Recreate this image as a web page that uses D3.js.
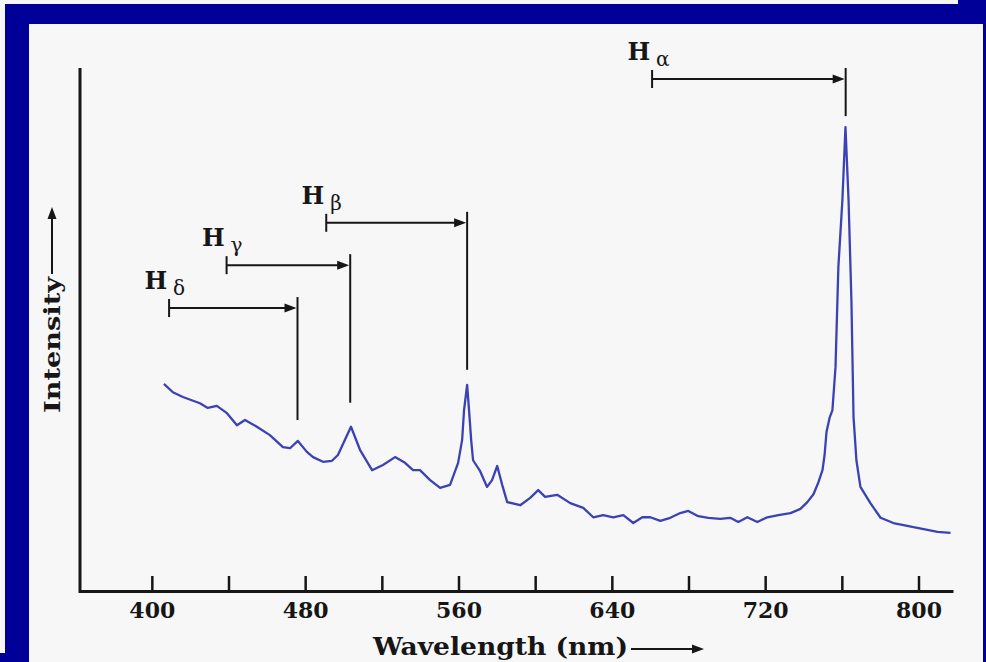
<!DOCTYPE html>
<html>
<head>
<meta charset="utf-8">
<style>
  html, body { margin: 0; padding: 0; background: #f7f7f7; }
  svg { display: block; }
</style>
<script src="https://cdn.jsdelivr.net/npm/d3@7"></script>
</head>
<body>
<div id="chart"></div>
<script>
// spectrum (wavelength in nm, intensity in arbitrary units)
const WAVELENGTHS = [
  406.3, 411.0, 416.2, 425.1, 429.2, 433.9, 439.2, 444.4, 448.6, 454.8,
  461.6, 468.4, 472.1, 476.2, 480.9, 484.1, 489.3, 494.0, 497.1, 503.9,
  508.6, 514.9, 520.6, 526.9, 532.1, 536.3, 539.9, 545.2, 550.4, 555.6,
  559.8, 561.9, 562.9, 564.5, 565.5, 566.6, 567.6, 571.3, 574.9, 577.5,
  580.2, 582.8, 585.4, 592.2, 597.4, 601.6, 605.2, 611.5, 618.3, 625.1,
  630.3, 635.5, 640.7, 646.0, 651.2, 655.9, 660.1, 665.3, 670.5, 675.7,
  679.9, 685.1, 690.3, 696.6, 701.8, 706.0, 710.7, 715.9, 721.1, 726.9,
  733.2, 738.4, 742.0, 745.2, 747.8, 749.9, 751.0, 752.0, 753.6, 755.1,
  756.7, 758.2, 760.3, 761.9, 763.5, 765.0, 766.1, 767.6, 769.7, 774.9,
  780.2, 786.9, 792.2, 797.4, 804.7, 809.9, 816.7
];
const INTENSITY = [
  39.6, 38.0, 37.1, 35.9, 35.0, 35.4, 34.0, 31.7, 32.7, 31.4,
  29.8, 27.5, 27.3, 28.7, 26.6, 25.6, 24.7, 24.9, 26.0, 31.4,
  27.0, 23.1, 24.1, 25.6, 24.5, 23.1, 23.1, 21.2, 19.7, 20.3,
  24.5, 28.9, 34.6, 39.4, 34.6, 28.9, 25.0, 22.9, 19.9, 21.2,
  23.9, 20.3, 17.0, 16.4, 17.8, 19.3, 18.0, 18.4, 16.8, 15.9,
  14.1, 14.5, 14.1, 14.5, 13.0, 14.1, 14.1, 13.4, 14.0, 14.9,
  15.3, 14.3, 14.0, 13.8, 14.0, 13.2, 14.1, 13.2, 14.1, 14.5,
  14.9, 15.7, 17.0, 18.5, 20.8, 23.1, 26.0, 30.4, 33.1, 34.6,
  42.8, 62.0, 74.8, 88.7, 74.8, 55.6, 33.3, 25.0, 19.9, 16.8,
  14.0, 13.0, 12.6, 12.2, 11.7, 11.3, 11.1
];

// x axis ticks
const TICK_VALUES = [400, 440, 480, 520, 560, 600, 640, 680, 720, 760, 800];
const TICK_LABELS = ['400', '', '480', '', '560', '', '640', '', '720', '', '800'];

// Balmer lines: rest wavelength -> observed (shifted) wavelength
const LINE_NAMES = ['α', 'β', 'γ', 'δ'];
const REST_NM = [661, 491, 439, 409];
const OBSERVED_NM = [762, 564.5, 503.5, 476];
const BRACKET_LEVEL = [97.9, 70.4, 62.3, 54.1];
const MARKER_FOOT = [90.8, 42.3, 36.0, 32.7];

const X_DOMAIN = [362, 818];
const Y_DOMAIN = [0, 100];

const WIDTH = 986;
const HEIGHT = 662;
const BLUE = '#000099';
const INK = '#161616';
const SERIF = '"DejaVu Serif", "Liberation Serif", serif';

const svg = d3.select('#chart').append('svg')
  .attr('width', WIDTH)
  .attr('height', HEIGHT);

svg.append('rect').attr('width', WIDTH).attr('height', HEIGHT).attr('fill', '#f7f7f7');

// blue frame
const frame = svg.append('g').attr('fill', BLUE);
frame.append('rect').attr('x', 5).attr('y', 4).attr('width', 981).attr('height', 20);
frame.append('rect').attr('x', 958).attr('y', 0).attr('width', 28).attr('height', 4);
frame.append('rect').attr('x', 5).attr('y', 4).attr('width', 24).attr('height', 658);
frame.append('rect').attr('x', 0).attr('y', 653).attr('width', 29).attr('height', 9);
frame.append('rect').attr('x', 983).attr('y', 0).attr('width', 3).attr('height', 662);

const x = d3.scaleLinear().domain(X_DOMAIN).range([79, 953]);
const y = d3.scaleLinear().domain(Y_DOMAIN).range([591, 68]);

function arrowHead(tipX, tipY, dir) {
  // dir: 'right' or 'up'
  const p = d3.path();
  if (dir === 'up') {
    p.moveTo(tipX, tipY);
    p.lineTo(tipX - 4.5, tipY + 12);
    p.lineTo(tipX + 4.5, tipY + 12);
  } else {
    p.moveTo(tipX, tipY);
    p.lineTo(tipX - 12, tipY - 4.5);
    p.lineTo(tipX - 12, tipY + 4.5);
  }
  p.closePath();
  return p.toString();
}

// x axis, ticks pointing up
const xAxis = d3.axisBottom(x)
  .tickValues(TICK_VALUES)
  .tickFormat((d, i) => TICK_LABELS[i])
  .tickSizeInner(-15)
  .tickSizeOuter(0)
  .tickPadding(11);

const gx = svg.append('g')
  .attr('transform', `translate(0,${y(0)})`)
  .call(xAxis);
gx.select('.domain').attr('stroke', INK).attr('stroke-width', 3);
gx.selectAll('.tick line').attr('stroke', INK).attr('stroke-width', 2.5);
gx.selectAll('.tick text')
  .attr('fill', INK)
  .style('font-family', SERIF)
  .style('font-weight', 'bold')
  .style('font-size', '22px');

// y axis: bare line
const yAxis = d3.axisLeft(y).tickValues([]).tickSizeOuter(0);
const gy = svg.append('g')
  .attr('transform', 'translate(80,0)')
  .call(yAxis);
gy.select('.domain').attr('stroke', INK).attr('stroke-width', 3)
  .attr('d', `M0,${y(Y_DOMAIN[1])}V${y(0) + 2}`);

// axis titles
svg.append('text')
  .attr('x', 373)
  .attr('y', 655)
  .attr('fill', INK)
  .attr('textLength', 255)
  .attr('lengthAdjust', 'spacingAndGlyphs')
  .style('font-family', SERIF)
  .style('font-weight', 'bold')
  .style('font-size', '24px')
  .text('Wavelength (nm)');
svg.append('line')
  .attr('x1', 631).attr('x2', 695)
  .attr('y1', 649).attr('y2', 649)
  .attr('stroke', INK).attr('stroke-width', 2);
svg.append('path').attr('d', arrowHead(704, 649, 'right')).attr('fill', INK);

svg.append('text')
  .attr('transform', 'translate(60,413) rotate(-90)')
  .attr('fill', INK)
  .attr('textLength', 136)
  .attr('lengthAdjust', 'spacingAndGlyphs')
  .style('font-family', SERIF)
  .style('font-weight', 'bold')
  .style('font-size', '23px')
  .text('Intensity');
svg.append('line')
  .attr('x1', 52).attr('x2', 52)
  .attr('y1', 274).attr('y2', 216)
  .attr('stroke', INK).attr('stroke-width', 2);
svg.append('path').attr('d', arrowHead(52, 207, 'up')).attr('fill', INK);

// spectrum
const spectrum = WAVELENGTHS.map((w, i) => ({ w, v: INTENSITY[i] }));
const line = d3.line()
  .x(d => x(d.w))
  .y(d => y(d.v))
  .curve(d3.curveLinear);

svg.append('path')
  .datum(spectrum)
  .attr('d', line)
  .attr('fill', 'none')
  .attr('stroke', '#3b42b4')
  .attr('stroke-width', 2.3)
  .attr('stroke-linejoin', 'round');

// Balmer line annotations
const balmer = LINE_NAMES.map((name, i) => ({
  name,
  rest: REST_NM[i],
  obs: OBSERVED_NM[i],
  level: BRACKET_LEVEL[i],
  foot: MARKER_FOOT[i]
}));

const ann = svg.selectAll('g.balmer')
  .data(balmer)
  .join('g')
  .attr('class', 'balmer');

ann.append('line')
  .attr('x1', d => x(d.rest)).attr('x2', d => x(d.rest))
  .attr('y1', d => y(d.level) - 9).attr('y2', d => y(d.level) + 9)
  .attr('stroke', INK).attr('stroke-width', 2);

ann.append('line')
  .attr('x1', d => x(d.rest)).attr('x2', d => x(d.obs) - 8)
  .attr('y1', d => y(d.level)).attr('y2', d => y(d.level))
  .attr('stroke', INK).attr('stroke-width', 2);

ann.append('path')
  .attr('d', d => arrowHead(x(d.obs) - 1, y(d.level), 'right'))
  .attr('fill', INK);

ann.append('line')
  .attr('x1', d => x(d.obs)).attr('x2', d => x(d.obs))
  .attr('y1', d => y(d.level) - 11).attr('y2', d => y(d.foot))
  .attr('stroke', INK).attr('stroke-width', 2);

ann.append('text')
  .attr('x', d => x(d.rest) - 2)
  .attr('y', d => y(d.level) - 19)
  .attr('text-anchor', 'end')
  .attr('fill', INK)
  .style('font-family', SERIF)
  .style('font-weight', 'bold')
  .style('font-size', '24px')
  .text('H');

ann.append('text')
  .attr('x', d => x(d.rest) + 4)
  .attr('y', d => y(d.level) - 13)
  .attr('fill', INK)
  .style('font-family', SERIF)
  .style('font-size', '20px')
  .text(d => d.name);
</script>
</body>
</html>
